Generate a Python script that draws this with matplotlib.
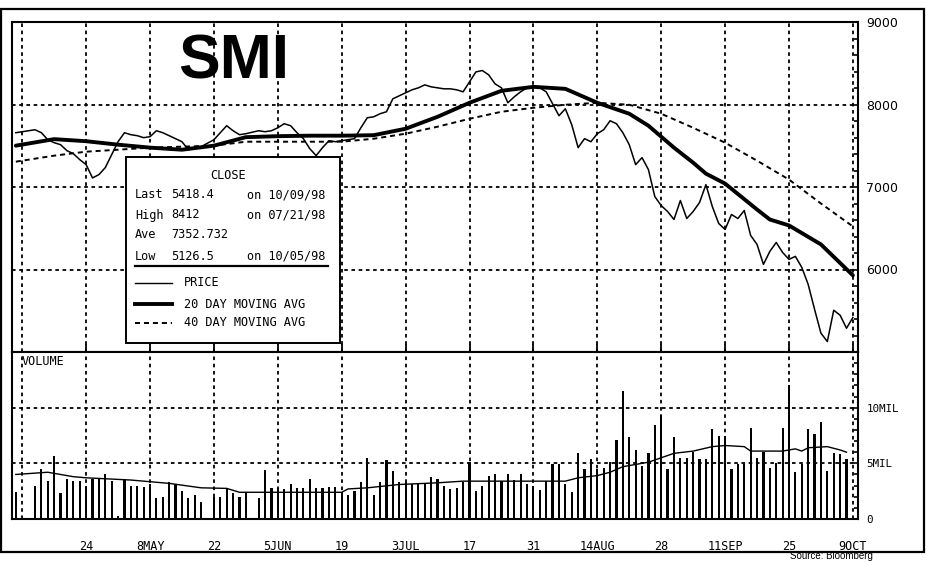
#!/usr/bin/env python
"""SMI daily close with 20/40 day moving averages and volume, Apr-Oct 1998 (Bloomberg-style chart)."""

import matplotlib
matplotlib.use("Agg")
import matplotlib.pyplot as plt
from matplotlib.lines import Line2D
from matplotlib.patches import Rectangle
from matplotlib.ticker import FixedLocator, MultipleLocator

#+++ Data (x = trading-day index, 0 = 10 Apr 1998, grid every 10 trading days)
HOLIDAYS = [0, 1, 29, 36]
days = [d for d in range(-1, 131) if d not in HOLIDAYS]

price = [7658,
         7694, 7658, 7573, 7537, 7513, 7440, 7404, 7332, 7271, 7110,
         7150, 7235, 7392, 7549, 7658, 7634, 7622, 7598, 7610, 7682,
         7658, 7622, 7586, 7549, 7452, 7477, 7489,
         7573, 7658, 7743, 7682, 7634, 7646,
         7682, 7670, 7682, 7718, 7767, 7743, 7658, 7586, 7465, 7380,
         7477, 7561, 7549, 7561, 7573, 7586, 7718, 7839, 7851, 7888,
         7912, 8069, 8105, 8142, 8178, 8202, 8238, 8214, 8202, 8190,
         8190, 8178, 8154, 8275, 8395, 8412, 8359, 8250, 8202, 8021,
         8093, 8154, 8202, 8214, 8202, 8154, 8009, 7864, 7948, 7755,
         7477, 7586, 7549, 7646, 7694, 7803, 7767, 7658, 7513, 7271,
         7356, 7211, 6884, 6775, 6703, 6606, 6836, 6618, 6703, 6812,
         7029, 6763, 6558, 6485, 6667, 6618, 6715, 6413, 6304, 6062,
         6219, 6328, 6207, 6123, 6159, 6026, 5820, 5518, 5228, 5127,
         5506, 5446, 5288, 5418]

ma_days = [-1, 5, 10, 15, 20, 25, 30, 35, 40, 45, 50, 55, 60, 65, 70,
           75, 80, 85, 90, 95, 98, 100, 102, 105, 107, 110, 115, 117, 120, 125, 130]
ma20 = [7501, 7580, 7555, 7513, 7477, 7452, 7501, 7604, 7616, 7622, 7622, 7628, 7706, 7851, 8021,
        8166, 8214, 8190, 8021, 7888, 7743, 7610, 7477, 7295, 7162, 7041, 6727, 6606, 6534, 6304, 5929]
ma40_days = [-1, 5, 10, 15, 20, 25, 30, 35, 40, 45, 50, 55, 60, 65, 70,
             75, 80, 85, 90, 95, 100, 105, 110, 115, 120, 125, 130]
ma40 = [7307, 7380, 7428, 7452, 7477, 7489, 7501, 7549, 7549, 7549, 7549, 7585, 7646, 7731, 7827,
        7912, 7960, 7997, 8021, 7997, 7888, 7718, 7537, 7319, 7090, 6800, 6522]

vol_days = [d for d in range(-1, 130) if d not in HOLIDAYS]
volume = [2.4,
          3.0, 4.5, 3.4, 5.7, 2.3, 3.6, 3.4, 3.4, 3.0, 3.6,
          3.6, 4.0, 3.4, 0.3, 3.6, 3.0, 3.0, 2.9, 3.1, 1.9,
          2.0, 3.3, 3.1, 2.5, 1.9, 2.2, 1.5,
          2.0, 2.0, 2.7, 2.3, 2.0, 2.3,
          1.9, 4.4, 2.8, 2.8, 2.7, 3.1, 2.8, 2.8, 3.6, 2.8,
          2.8, 2.9, 2.9, 2.4, 2.2, 2.5, 3.3, 5.5, 2.2, 3.3,
          5.3, 4.3, 3.3, 3.3, 3.1, 3.1, 3.1, 3.8, 3.6, 3.0,
          2.7, 2.8, 3.3, 5.1, 2.5, 3.0, 3.9, 4.0, 3.4, 4.0,
          3.5, 4.0, 3.1, 3.0, 2.6, 3.4, 4.9, 4.9, 3.1, 2.4,
          5.9, 4.5, 5.4, 4.5, 4.6, 5.1, 7.1, 11.5, 7.4, 6.2,
          4.8, 5.9, 8.4, 9.3, 4.5, 7.4, 5.5, 5.5, 6.0, 5.4,
          5.4, 8.1, 7.5, 7.5, 4.5, 4.9, 4.9, 8.2, 5.5, 6.0,
          4.6, 5.0, 8.2, 12.0, 4.2, 4.9, 8.1, 7.6, 8.7, 4.3,
          5.9, 5.8, 5.4]

vol_ma_days = [-1, 4, 6, 8, 10, 17, 23, 28, 32, 34, 50, 51, 54, 59, 65, 69, 85, 87, 90, 92,
               94, 96, 98, 100, 102, 105, 108, 110, 113, 114, 119, 121, 122, 123, 126, 128, 129]
vol_ma = [4.0, 4.2, 4.0, 3.8, 3.7, 3.5, 3.2, 2.8, 2.75, 2.4, 2.4, 2.7, 2.8, 3.1, 3.25, 3.4, 3.4, 3.7, 3.9, 4.2,
          4.7, 4.9, 5.1, 5.5, 5.9, 6.1, 6.5, 6.6, 6.5, 6.1, 6.1, 6.3, 6.1, 6.4, 6.5, 6.2, 6.0]

xtick_days = [10, 20, 30, 40, 50, 60, 70, 80, 90, 100, 110, 120, 130]
xtick_labels = ["24", "8MAY", "22", "5JUN", "19", "3JUL", "17", "31", "14AUG", "28", "11SEP", "25", "9OCT"]
price_ticks = [6000, 7000, 8000, 9000]
vol_ticks = [0, 5, 10]
vol_tick_labels = ["0", "5MIL", "10MIL"]
#---

#+++ Layout helpers (pixel -> figure fraction)
W_PX, H_PX = 926, 562
fx = lambda px: px / W_PX
fy = lambda py: 1 - py / H_PX
MONO = "DejaVu Sans Mono"
#---

fig = plt.figure(figsize=(W_PX / 100, H_PX / 100), dpi=100)
fig.patch.set_facecolor("white")

left, right, top, mid, bot = fx(12), fx(858), fy(22), fy(352), fy(519)
ax_p = fig.add_axes([left, mid, right - left, top - mid])
ax_v = fig.add_axes([left, bot, right - left, mid - bot], sharex=ax_p)

grid_kw = dict(color="black", lw=1.3, linestyle=(0, (2.0, 2.0)), zorder=1)

#+++ Price panel
ax_p.plot(days, price, color="black", lw=1.1, zorder=3)
ax_p.plot(ma_days, ma20, color="black", lw=2.8, solid_capstyle="round", solid_joinstyle="round", zorder=4)
ax_p.plot(ma40_days, ma40, color="black", lw=1.4, linestyle=(0, (2.6, 2.0)), zorder=3)
ax_p.set_ylim(5000, 9000)
ax_p.set_xlim(-1.6, 130.8)
for y in [6000, 7000, 8000]:
    ax_p.axhline(y, **grid_kw)
for d in range(0, 131, 10):
    ax_p.axvline(d, **grid_kw)
    ax_v.axvline(d, **grid_kw)

ax_p.yaxis.tick_right()
ax_p.yaxis.set_major_locator(FixedLocator(price_ticks))
ax_p.yaxis.set_minor_locator(MultipleLocator(200))
ax_p.tick_params(axis="y", which="major", direction="in", length=4, width=1.2, pad=6, labelsize=9)
ax_p.tick_params(axis="y", which="minor", direction="in", length=3, width=1.2)
for lab in ax_p.get_yticklabels():
    lab.set_family("DejaVu Sans")
ax_p.xaxis.set_major_locator(MultipleLocator(5))
ax_p.tick_params(axis="x", which="major", direction="in", length=6, width=1.3, labelbottom=False, bottom=True)
#---

#+++ Volume panel
ax_v.bar(vol_days, volume, width=0.34, color="black", zorder=3)
ax_v.plot(vol_ma_days, vol_ma, color="black", lw=1.0, zorder=4)
ax_v.set_ylim(0, 15)
for y in [5, 10]:
    ax_v.axhline(y, **grid_kw)
ax_v.yaxis.tick_right()
ax_v.yaxis.set_major_locator(FixedLocator(vol_ticks))
ax_v.set_yticklabels(vol_tick_labels, family=MONO, fontsize=7.8)
ax_v.yaxis.set_minor_locator(MultipleLocator(1))
ax_v.tick_params(axis="y", which="major", direction="in", length=4, width=1.2, pad=6)
ax_v.tick_params(axis="y", which="minor", direction="in", length=3, width=1.2)
ax_v.xaxis.set_major_locator(FixedLocator(xtick_days))
ax_v.set_xticklabels(xtick_labels, family=MONO, fontsize=8.5)
ax_v.tick_params(axis="x", length=0, pad=15)
ax_v.text(0.012, 0.985, "VOLUME", transform=ax_v.transAxes, family=MONO, fontsize=8.5,
          va="top", ha="left")
#---

for ax in (ax_p, ax_v):
    for s in ax.spines.values():
        s.set_linewidth(1.5)

#+++ Title, legend box, frame
fig.text(fx(234), fy(62), "SMI", family="Liberation Sans", fontweight="bold", fontsize=45,
         ha="center", va="center")

fig.patches.append(Rectangle((fx(126), fy(343)), fx(340) - fx(126), fy(157) - fy(343),
                             transform=fig.transFigure, facecolor="white", edgecolor="black",
                             lw=1.4, zorder=5))
txt = dict(family=MONO, fontsize=8.6, va="center", ha="left", zorder=6)
fig.text(fx(228), fy(175), "CLOSE", **{**txt, "ha": "center"})
rows = [("Last", "5418.4", "on 10/09/98", 195),
        ("High", "8412", "on 07/21/98", 215),
        ("Ave", "7352.732", "", 235),
        ("Low", "5126.5", "on 10/05/98", 256)]
for name, val, when, py in rows:
    fig.text(fx(135), fy(py), name, **txt)
    fig.text(fx(171), fy(py), val, **txt)
    fig.text(fx(247), fy(py), when, **txt)
fig.lines.append(Line2D([fx(135), fx(328)], [fy(266), fy(266)], transform=fig.transFigure,
                        color="black", lw=1.6, zorder=6))
leg = [("PRICE", dict(lw=1.0), 283),
       ("20 DAY MOVING AVG", dict(lw=2.8), 304),
       ("40 DAY MOVING AVG", dict(lw=1.4, linestyle=(0, (2.6, 2.0))), 323)]
for label, style, py in leg:
    fig.lines.append(Line2D([fx(135), fx(172)], [fy(py), fy(py)], transform=fig.transFigure,
                            color="black", zorder=6, **style))
    fig.text(fx(184), fy(py), label, **txt)

fig.patches.append(Rectangle((fx(1), fy(552)), fx(924) - fx(1), fy(9) - fy(552),
                             transform=fig.transFigure, fill=False, edgecolor="black", lw=1.6))
fig.text(fx(790), fy(561), "Source: Bloomberg", family="Liberation Sans", fontsize=7,
         va="bottom", ha="left")
#---

fig.savefig("out.png", dpi=100, facecolor="white")
